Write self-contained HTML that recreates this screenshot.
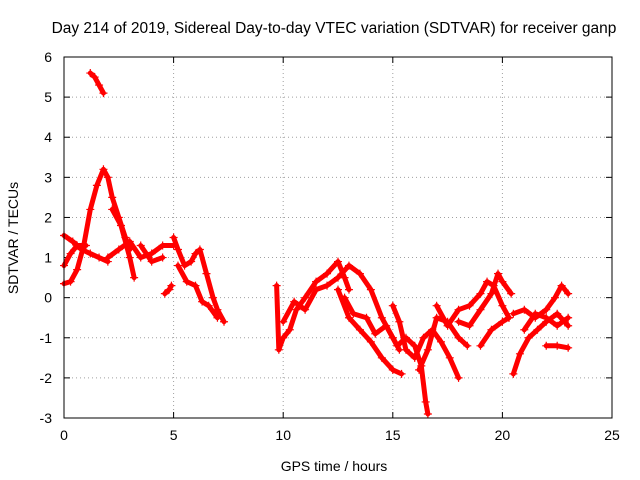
<!DOCTYPE html>
<html><head><meta charset="utf-8"><style>
body{margin:0;background:#fff;}
svg{display:block;font-family:"Liberation Sans",sans-serif;}
</style></head><body>
<svg id="chart" width="640" height="480" viewBox="0 0 640 480" xmlns="http://www.w3.org/2000/svg">
<rect width="640" height="480" fill="#fff"/>
<text x="334" y="33" font-size="15.5" text-anchor="middle">Day 214 of 2019, Sidereal Day-to-day VTEC variation (SDTVAR) for receiver ganp</text>
<text x="334" y="471" font-size="14" text-anchor="middle">GPS time / hours</text>
<text x="18" y="238" font-size="14" text-anchor="middle" transform="rotate(-90 18 238)">SDTVAR / TECUs</text>
<g id="grid"></g><g id="ticks"></g><g id="series"></g>
<rect x="64" y="57" width="548" height="361" fill="none" stroke="#000" stroke-width="1"/>
</svg>
<script>
const xTicks=[0,5,10,15,20,25];
const yTicks=[-3,-2,-1,0,1,2,3,4,5,6];
const tracks=[
[[1.2,5.6],[1.4,5.5],[1.6,5.3],[1.8,5.1]],
[[0,0.35],[0.3,0.4],[0.6,0.7],[0.9,1.3],[1.2,2.2],[1.5,2.8],[1.8,3.2],[2.0,3.0],[2.2,2.5],[2.5,2.0],[2.8,1.5],[3.0,1.2]],
[[0,1.55],[0.4,1.4],[0.8,1.2],[1.2,1.1],[1.6,1.0],[2.0,0.9]],
[[0,0.8],[0.3,1.1],[0.6,1.3],[1.0,1.3]],
[[2.2,2.2],[2.6,1.8],[3.0,1.0],[3.2,0.5]],
[[2.0,1.0],[2.5,1.2],[3.0,1.4],[3.5,1.0],[4.0,1.1],[4.5,1.3],[5.0,1.3]],
[[3.5,1.3],[4.0,0.9],[4.5,1.0]],
[[4.6,0.1],[4.8,0.2],[4.9,0.3]],
[[5.0,1.5],[5.2,1.2],[5.5,0.8],[5.8,0.9],[6.0,1.1],[6.2,1.2],[6.5,0.6],[6.8,0.0],[7.0,-0.3],[7.3,-0.6]],
[[5.2,0.8],[5.6,0.4],[6.0,0.3],[6.3,-0.1],[6.6,-0.2],[7.0,-0.5]],
[[9.7,0.3],[9.8,-1.3],[10.0,-1.0],[10.3,-0.8],[10.6,-0.3],[11,0],[11.5,0.4],[12,0.6],[12.5,0.9],[12.8,0.5],[13,0.2]],
[[10,-0.6],[10.5,-0.1],[11,-0.3],[11.5,0.2],[12,0.3],[12.5,0.5],[13,0.8],[13.5,0.6],[14,0.2],[14.5,-0.5],[15,-1.0],[15.3,-1.3]],
[[12.5,0.2],[13,-0.5],[13.5,-0.8],[14,-1.1],[14.5,-1.5],[15,-1.8],[15.4,-1.9]],
[[12.8,0.0],[13.2,-0.4],[13.8,-0.5],[14.2,-0.9],[14.7,-0.7],[15.2,-1.2],[15.6,-1.0],[16,-1.2],[16.3,-1.7],[16.5,-2.6],[16.6,-2.9]],
[[15,-0.2],[15.3,-0.6],[15.6,-1.3],[16.0,-1.5],[16.4,-1.0],[16.8,-0.8],[17.2,-1.1],[17.6,-1.5],[18,-2.0]],
[[16.2,-1.8],[16.6,-1.3],[17,-0.5],[17.5,-0.6],[18,-1.0],[18.4,-1.2]],
[[17,-0.2],[17.5,-0.7],[18,-0.3],[18.5,-0.2],[19,0.1],[19.3,0.4],[19.6,0.3],[20,-0.2],[20.3,-0.5]],
[[18,-0.6],[18.5,-0.7],[19,-0.3],[19.5,0.1],[19.8,0.6],[20,0.4],[20.4,0.1]],
[[19,-1.2],[19.5,-0.8],[20,-0.6],[20.3,-0.5]],
[[20.5,-1.9],[20.8,-1.4],[21.2,-1.0],[21.6,-0.8],[22,-0.6],[22.5,-0.4],[23,-0.7]],
[[20.5,-0.4],[21,-0.3],[21.5,-0.5],[22,-0.3],[22.4,0.0],[22.7,0.3],[23,0.1]],
[[22.0,-1.2],[22.5,-1.2],[23,-1.25]],
[[21,-0.8],[21.5,-0.4],[22,-0.5],[22.5,-0.7],[23,-0.5]]
];
const NS="http://www.w3.org/2000/svg";
const X0=64,X1=612,Y0=418,Y1=57;
const sx=v=>X0+(v-0)/(25-0)*(X1-X0);
const sy=v=>Y0-(v+3)/(6+3)*(Y0-Y1);
function mk(tag,attrs,parent){const e=document.createElementNS(NS,tag);for(const k in attrs)e.setAttribute(k,attrs[k]);parent.appendChild(e);return e;}
const grid=document.getElementById('grid'),ticks=document.getElementById('ticks'),series=document.getElementById('series');
xTicks.forEach(t=>{const x=sx(t);
 if(t>0&&t<25){const g=mk('line',{x1:x,x2:x,y1:Y1,y2:Y0,stroke:'#a0a0a0','stroke-dasharray':'1,3'},grid);
 
 }
 mk('line',{x1:x,x2:x,y1:Y0,y2:Y0-6,stroke:'#000'},ticks);mk('line',{x1:x,x2:x,y1:Y1,y2:Y1+6,stroke:'#000'},ticks);
 const l=mk('text',{x:x,y:Y0+22,'font-size':14,'text-anchor':'middle'},ticks);l.textContent=t;
 
 });
yTicks.forEach(t=>{const y=sy(t);
 if(t>-3&&t<6){const g=mk('line',{x1:X0,x2:X1,y1:y,y2:y,stroke:'#a0a0a0','stroke-dasharray':'1,3'},grid);
 
 }
 mk('line',{x1:X0,x2:X0+6,y1:y,y2:y,stroke:'#000'},ticks);mk('line',{x1:X1,x2:X1-6,y1:y,y2:y,stroke:'#000'},ticks);
 const l=mk('text',{x:X0-12,y:y+5,'font-size':14,'text-anchor':'end'},ticks);l.textContent=t;
 
 });
tracks.forEach(tr=>{
 const p=mk('polyline',{points:tr.map(d=>sx(d[0])+','+sy(d[1])).join(' '),fill:'none',stroke:'#f00','stroke-width':5,'stroke-linejoin':'round','stroke-linecap':'round'},series);
 
 
 tr.forEach(d=>{const x=sx(d[0]),y=sy(d[1]);
  const m=mk('path',{d:`M${x-4},${y}H${x+4}M${x},${y-4}V${y+4}`,stroke:'#f00','stroke-width':1.2},series);
  
  });
});
</script>
</body></html>
